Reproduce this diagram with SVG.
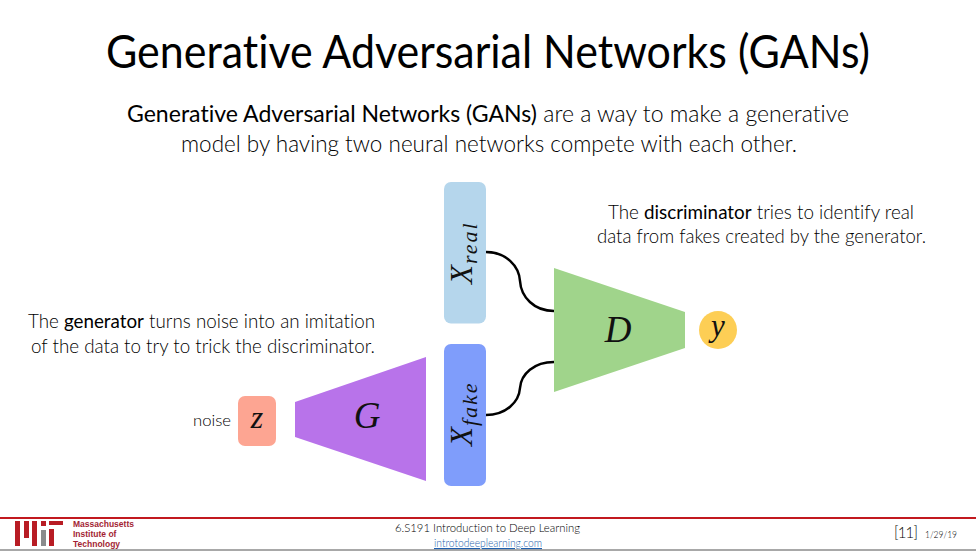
<svg xmlns="http://www.w3.org/2000/svg" width="976" height="551" viewBox="0 0 976 551">
<style>
text{font-family:Lato,"Open Sans",sans-serif;fill:#000;font-variant-ligatures:none}
.m{font-family:"Liberation Serif","DejaVu Serif",serif;font-style:italic;fill:#111}
.b{font-weight:400;fill:#000}
.s{font-size:19px;font-weight:300}
.p{font-size:24px;font-weight:300}
.c{fill:none;stroke:#000;stroke-width:2.5}
.r{fill:#c2191f}
.l{font-family:"Liberation Sans",Arial,sans-serif;font-weight:700;font-size:8.500px;fill:#a31f34}
</style>
<rect width="976" height="551" fill="#fff"/>
<g id="title"><text x="488" y="68" text-anchor="middle" font-size="47" textLength="764" lengthAdjust="spacingAndGlyphs">Generative Adversarial Networks (GANs)</text></g>
<g id="intro">
<text class="p" x="127" y="122" textLength="722" lengthAdjust="spacingAndGlyphs"><tspan class="b">Generative Adversarial Networks (GANs)</tspan> are a way to make a generative</text>
<text class="p" x="181" y="152" textLength="616" lengthAdjust="spacingAndGlyphs">model by having two neural networks compete with each other.</text>
</g>
<g id="connectors">
<path class="c" d="M486 252C506 252 519 266 520 281C521 297 534 311 554 311"/>
<path class="c" d="M486 415C506 415 519 402 520 388C521 374 534 362 554 362"/>
</g>
<g id="x-real"><rect x="444" y="182" width="42" height="141.500" rx="7" fill="#b5d6ec"/><text class="m" transform="translate(472 284) rotate(-90)" font-size="31">X<tspan font-size="22" dy="5" dx="1" letter-spacing="2">real</tspan></text></g>
<g id="x-fake"><rect x="444" y="344" width="42" height="142" rx="7" fill="#7f9dfb"/><text class="m" transform="translate(472 446) rotate(-90)" font-size="31">X<tspan font-size="22" dy="5" dx="1" letter-spacing="2">fake</tspan></text></g>
<g id="discriminator"><polygon points="554,268 685,312 685,348 554,392" fill="#a0d48b"/><text class="m" x="618" y="342" text-anchor="middle" font-size="37">D</text></g>
<g id="y"><circle cx="718" cy="330" r="19" fill="#fdce55"/><text class="m" x="718" y="336" text-anchor="middle" font-size="31">y</text></g>
<g id="generator"><polygon points="295,402 426,357 426,481 295,437" fill="#b873ea"/><text class="m" x="367" y="428" text-anchor="middle" font-size="37">G</text></g>
<g id="z"><rect x="238" y="396" width="38" height="50" rx="7" fill="#fda592"/><text class="m" x="257" y="428" text-anchor="middle" font-size="32">z</text></g>
<g id="noise-label"><text x="193" y="426" font-size="16" font-weight="300" textLength="38" lengthAdjust="spacingAndGlyphs">noise</text></g>
<g id="discriminator-note">
<text class="s" x="608" y="219" textLength="306" lengthAdjust="spacingAndGlyphs">The <tspan class="b">discriminator</tspan> tries to identify real</text>
<text class="s" x="597" y="243" textLength="329" lengthAdjust="spacingAndGlyphs">data from fakes created by the generator.</text>
</g>
<g id="generator-note">
<text class="s" x="28" y="328" textLength="347" lengthAdjust="spacingAndGlyphs">The <tspan class="b">generator</tspan> turns noise into an imitation</text>
<text class="s" x="31" y="353" textLength="344" lengthAdjust="spacingAndGlyphs">of the data to try to trick the discriminator.</text>
</g>
<g id="footer">
<rect x="0" y="517" width="976" height="2" class="r"/>
<rect x="0" y="549" width="976" height="2" fill="#a8a8a8"/>
<rect x="15" y="521" width="5" height="25" fill="#b81c24"/>
<rect x="24" y="521" width="5" height="17" fill="#b81c24"/>
<rect x="32" y="521" width="5" height="25" fill="#b81c24"/>
<rect x="41" y="521" width="5" height="5" fill="#b81c24"/>
<rect x="41" y="530" width="5" height="16" fill="#8a8b8c"/>
<rect x="49" y="521" width="14" height="4" fill="#b81c24"/>
<rect x="49" y="529" width="5" height="17" fill="#b81c24"/>
<text class="l" x="73" y="527">Massachusetts</text>
<text class="l" x="73" y="537">Institute of</text>
<text class="l" x="73" y="547">Technology</text>
<text x="395" y="532" font-size="11.500" font-weight="300" textLength="185" lengthAdjust="spacingAndGlyphs">6.S191 Introduction to Deep Learning</text>
<text x="434" y="547" font-size="11" font-weight="300" text-decoration="underline" textLength="108" lengthAdjust="spacingAndGlyphs" style="fill:#1f5fae">introtodeeplearning.com</text>
<text x="894" y="538" font-size="15" font-weight="300" textLength="24" lengthAdjust="spacing">[11]</text>
<text x="925" y="538" font-size="10.500" font-weight="300" textLength="32" lengthAdjust="spacingAndGlyphs">1/29/19</text>
</g>
</svg>
